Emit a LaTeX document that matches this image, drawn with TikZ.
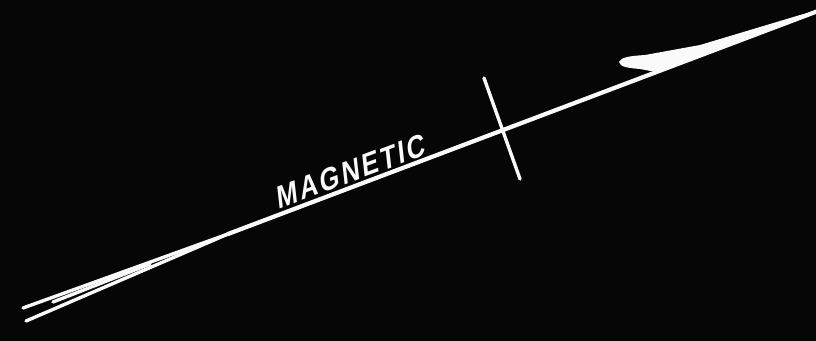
\documentclass[tikz,border=0pt]{standalone}
\usepackage{fontspec}
\setmainfont{Liberation Sans}
\newfontfamily\chalkfont[FakeStretch=0.85, FakeSlant=0.25, LetterSpace=8]{Liberation Sans Bold}
\usetikzlibrary{positioning}
\definecolor{boardblack}{RGB}{6,6,6}
\definecolor{chalkwhite}{RGB}{250,250,250}

\begin{document}
\begin{tikzpicture}[x=0.025cm, y=-0.025cm,
    bearing/.style={chalkwhite, line width=3pt, line cap=round},
    tailline/.style={chalkwhite, line width=2.4pt, line cap=round},
    tick/.style={chalkwhite, line width=2.4pt, line cap=round},
    label/.style={chalkwhite, font=\chalkfont\fontsize{22}{22}\selectfont, inner sep=0pt}]
      \fill[boardblack] (0,0) rectangle (816,341);
      \useasboundingbox (0,0) rectangle (816,341);
      \coordinate (join) at (228,234);
      \coordinate (tip) at (818,11);
      \coordinate (tailtop) at (23,308);
      \coordinate (tailbot) at (26,321);
      \coordinate (tailmidA) at (53,302);
      \coordinate (tailmidB) at (150,264);
      \coordinate (ticktop) at (484,78);
      \coordinate (tickbot) at (520,179);
      \draw[bearing] (join) -- (tip);
      \draw[tailline] (tailtop) -- (join);
      \draw[tailline] (tailbot) -- (join);
      \draw[tailline] (tailmidA) -- (tailmidB);
      \draw[tick] (ticktop) -- (tickbot);
      % half arrow barb
      \fill[chalkwhite] (619,62) .. controls (621,57) and (630,56) .. (645,55)
        -- (700,45) -- (800,15) -- (816,11) -- (656,72) -- (640,69)
        .. controls (628,68) and (620,67) .. (619,62) -- cycle;
      \node[label, rotate=20.4] (magnetic) at (349,172) {MAGNETIC};
    \end{tikzpicture}
\end{document}
